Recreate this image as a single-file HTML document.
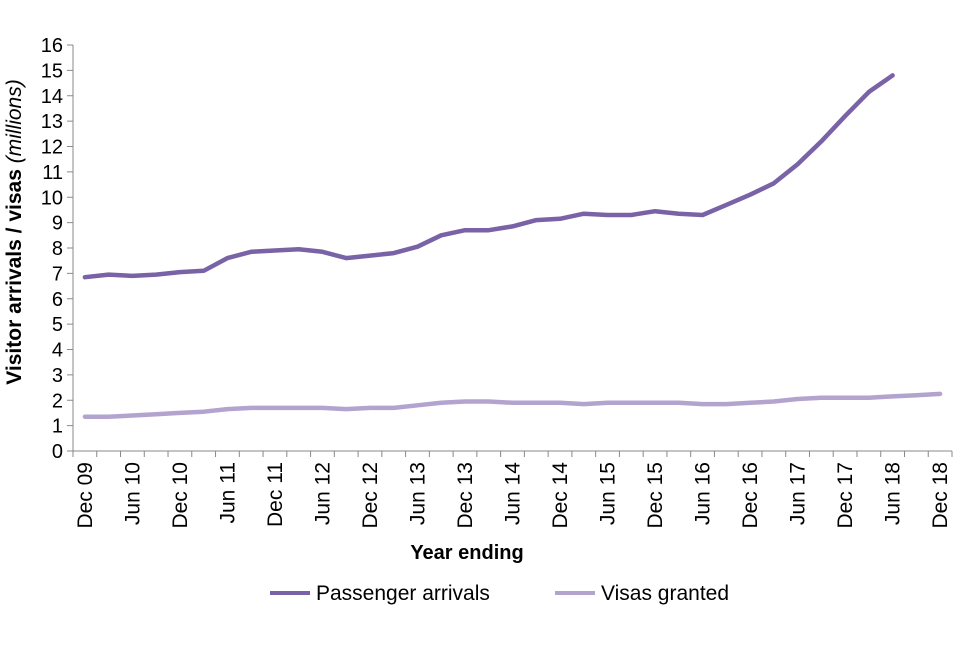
<!DOCTYPE html>
<html><head><meta charset="utf-8"><style>
body{margin:0;background:#fff;font-family:"Liberation Sans",Arial,sans-serif}
</style></head><body>
<svg id="chart" width="960" height="640" xmlns="http://www.w3.org/2000/svg" font-family="Liberation Sans, Arial, sans-serif"></svg>
<script>
const categories=["Dec 09","Mar 10","Jun 10","Sep 10","Dec 10","Mar 11","Jun 11","Sep 11","Dec 11","Mar 12","Jun 12","Sep 12","Dec 12","Mar 13","Jun 13","Sep 13","Dec 13","Mar 14","Jun 14","Sep 14","Dec 14","Mar 15","Jun 15","Sep 15","Dec 15","Mar 16","Jun 16","Sep 16","Dec 16","Mar 17","Jun 17","Sep 17","Dec 17","Mar 18","Jun 18","Sep 18","Dec 18"];
const passengerArrivals=[6.85,6.95,6.9,6.95,7.05,7.1,7.6,7.85,7.9,7.95,7.85,7.6,7.7,7.8,8.05,8.5,8.7,8.7,8.85,9.1,9.15,9.35,9.3,9.3,9.45,9.35,9.3,9.7,10.1,10.55,11.3,12.2,13.2,14.15,14.8];
const visasGranted=[1.35,1.35,1.4,1.45,1.5,1.55,1.65,1.7,1.7,1.7,1.7,1.65,1.7,1.7,1.8,1.9,1.95,1.95,1.9,1.9,1.9,1.85,1.9,1.9,1.9,1.9,1.85,1.85,1.9,1.95,2.05,2.1,2.1,2.1,2.15,2.2,2.25];
const yTicks=[0,1,2,3,4,5,6,7,8,9,10,11,12,13,14,15,16];
const L=73,R=952,T=45,B=451,YMAX=16;
const svg=document.getElementById('chart');
const NS='http://www.w3.org/2000/svg';
const bw=(R-L)/categories.length;
const x=i=>L+bw*(i+0.5);
const y=v=>B-(v/YMAX)*(B-T);
function mk(t,a,txt){const e=document.createElementNS(NS,t);for(const k in a)e.setAttribute(k,a[k]);if(txt!==undefined)e.textContent=txt;svg.appendChild(e);return e;}
let e;
e=mk('line',{x1:L,y1:T,x2:L,y2:B,stroke:'#888','stroke-width':1});


e=mk('line',{x1:L,y1:B,x2:R,y2:B,stroke:'#888','stroke-width':1});


yTicks.forEach(v=>{
 mk('line',{x1:L-6,y1:y(v),x2:L,y2:y(v),stroke:'#888'});
 e=mk('text',{x:L-10,y:y(v)+7,'text-anchor':'end','font-size':20,fill:'#000'},v);
 
 
});
for(let i=0;i<=categories.length;i++){mk('line',{x1:L+bw*i,y1:B,x2:L+bw*i,y2:B+6,stroke:'#888'});}
categories.forEach((c,i)=>{
 if(i%2)return;
 e=mk('text',{x:0,y:0,'text-anchor':'end','font-size':21,fill:'#000',transform:`translate(${x(i)+7},${B+11}) rotate(-90)`},c);
 
 
});
function line(data,color,name){
 const d=data.map((v,i)=>(i?'L':'M')+x(i).toFixed(1)+' '+y(v).toFixed(1)).join(' ');
 e=mk('path',{d:d,fill:'none',stroke:color,'stroke-width':4.5,'stroke-linejoin':'round','stroke-linecap':'round'});
 
 
}
line(visasGranted,'#b3a3cf','visas-granted-line');
line(passengerArrivals,'#7a62a6','passenger-arrivals-line');
e=mk('text',{x:0,y:0,'text-anchor':'middle','font-size':21,'font-weight':'bold',transform:`translate(21,${(T+B)/2-16}) rotate(-90)`});


e.innerHTML='Visitor arrivals / visas <tspan font-style="italic" font-weight="normal">(millions)</tspan>';
e=mk('text',{x:467,y:559,'text-anchor':'middle','font-size':20,'font-weight':'bold'},'Year ending');


e=mk('line',{x1:270,y1:593,x2:310,y2:593,stroke:'#7a62a6','stroke-width':4});


e=mk('text',{x:316,y:600,'font-size':21},'Passenger arrivals');


e=mk('line',{x1:555,y1:593,x2:595,y2:593,stroke:'#b3a3cf','stroke-width':4});


e=mk('text',{x:601,y:600,'font-size':21},'Visas granted');


</script>
</body></html>
